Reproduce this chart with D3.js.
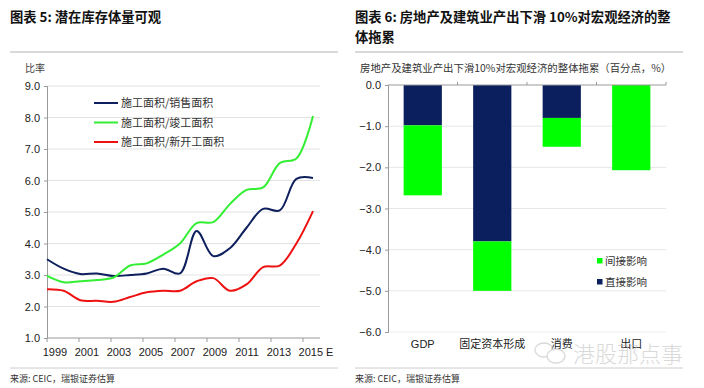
<!DOCTYPE html>
<html><head><meta charset="utf-8">
<script src="https://cdn.jsdelivr.net/npm/d3@7/dist/d3.min.js"></script>
<style>
body{margin:0;background:#fff;}
svg{display:block;font-family:"Noto Sans CJK SC","Liberation Sans",sans-serif;}
</style></head><body>
<svg id="c" width="704" height="388"></svg>
<script>
// ---- Chart 5 data ----
const years = [1999,2000,2001,2002,2003,2004,2005,2006,2007,2008,2009,2010,2011,2012,2013,2014,2015];
const yearLabels = ["1999","2001","2003","2005","2007","2009","2011","2013","2015 E"];
const salesRatio = [3.5,3.2,3.03,3.05,2.97,3.0,3.05,3.2,3.05,4.4,3.6,3.85,4.5,5.1,5.05,6.05,6.08];
const completedRatio = [2.97,2.77,2.8,2.84,2.92,3.3,3.37,3.65,4.0,4.65,4.68,5.25,5.7,5.78,6.55,6.7,8.05];
const newStartRatio = [2.55,2.5,2.2,2.18,2.15,2.3,2.45,2.5,2.5,2.8,2.9,2.5,2.7,3.25,3.3,4.0,5.03];
const leftTicks = [1,2,3,4,5,6,7,8,9];
const seriesNames = ["施工面积/销售面积","施工面积/竣工面积","施工面积/新开工面积"];

// ---- Chart 6 data ----
const categories = ["GDP","固定资本形成","消费","出口"];
const direct = [-0.98,-3.8,-0.8,0];
const indirect = [-1.7,-1.2,-0.7,-2.07];
const rightTicks = [0,-1,-2,-3,-4,-5,-6];

const svg = d3.select("#c");
const serif = "'Noto Sans CJK SC',sans-serif";

// ===== Left chart =====
svg.append("text").attr("x",10).attr("y",22).attr("font-size",13.3).attr("font-weight","bold").attr("fill","#111").text("图表 5: 潜在库存体量可观");
svg.append("line").attr("x1",10).attr("x2",338).attr("y1",52).attr("y2",52).attr("stroke","#ccc").attr("stroke-width",1.5);
svg.append("text").attr("x",25).attr("y",72).attr("font-size",10).attr("fill","#444").text("比率");

const x5 = d3.scaleLinear().domain([1999,2015]).range([47,313]);
const xBand = d3.scaleBand().domain(years).range([47,319]);
const y5 = d3.scaleLinear().domain([1,9]).range([338,86]);

const g5 = svg.append("g");
g5.selectAll("line.grid").data(leftTicks.slice(1)).join("line")
  .attr("x1",47).attr("x2",320).attr("y1",d=>y5(d)).attr("y2",d=>y5(d))
  .attr("stroke","#e3e3e3").attr("stroke-width",1);

const yAx5 = g5.append("g").attr("transform","translate(47,0)")
  .call(d3.axisLeft(y5).tickValues(leftTicks).tickFormat(d3.format(".1f")).tickSize(3));
yAx5.select(".domain").attr("stroke","#999");
yAx5.selectAll(".tick line").attr("stroke","#999");
yAx5.selectAll("text").attr("font-size",11).attr("fill","#222").attr("font-family","'Liberation Sans',Arial,sans-serif").attr("dx",-1);

// bottom axis
const xAxG = g5.append("g").attr("transform","translate(0,338)");
xAxG.append("line").attr("x1",47).attr("x2",320).attr("stroke","#999");
const labYears = years.filter((d,i)=>i%2===0);
xAxG.selectAll("line.t").data(labYears).join("line")
  .attr("x1",d=>xBand(d)).attr("x2",d=>xBand(d)).attr("y1",0).attr("y2",4).attr("stroke","#999");
xAxG.selectAll("text").data(labYears).join("text")
  .attr("x",(d,i)=>xBand(d)+xBand.bandwidth()/2 + (i===labYears.length-1?5:0))
  .attr("y",18).attr("text-anchor","middle").attr("font-size",11).attr("fill","#222")
  .attr("font-family","'Liberation Sans',Arial,sans-serif")
  .text((d,i)=>yearLabels[i]);

const line5 = d3.line().x((d,i)=>x5(years[i])).y(d=>y5(d)).curve(d3.curveCatmullRom.alpha(0.5));
const colors5 = ["#0d1f5c","#33ee33","#ee1111"];
[salesRatio,completedRatio,newStartRatio].forEach((s,k)=>{
  g5.append("path").datum(s).attr("d",line5).attr("fill","none").attr("stroke",colors5[k]).attr("stroke-width",2);
});
// legend
seriesNames.forEach((n,k)=>{
  const yy = 103 + k*19.5;
  g5.append("line").attr("x1",94).attr("x2",118).attr("y1",yy).attr("y2",yy).attr("stroke",colors5[k]).attr("stroke-width",2);
  g5.append("text").attr("x",121).attr("y",yy+4).attr("font-size",11).attr("fill","#333").text(n);
});
svg.append("line").attr("x1",10).attr("x2",338).attr("y1",368).attr("y2",368).attr("stroke","#ccc").attr("stroke-width",1);
svg.append("text").attr("x",10).attr("y",382).attr("font-size",9).attr("fill","#333").text("来源: CEIC，瑞银证券估算");

// ===== Right chart =====
const t6 = svg.append("text").attr("x",355).attr("font-size",13.3).attr("font-weight","bold").attr("fill","#111");
t6.append("tspan").attr("x",355).attr("y",22).text("图表 6: 房地产及建筑业产出下滑 10%对宏观经济的整");
t6.append("tspan").attr("x",355).attr("y",42).text("体拖累");
svg.append("line").attr("x1",355).attr("x2",683).attr("y1",52).attr("y2",52).attr("stroke","#ccc").attr("stroke-width",1.5);
svg.append("text").attr("x",360).attr("y",72).attr("font-size",10.4).attr("fill","#333").text("房地产及建筑业产出下滑10%对宏观经济的整体拖累（百分点，%）");

const x6 = d3.scaleBand().domain(categories).range([388,666]).paddingInner(0.45).paddingOuter(0.225);
const xb6 = d3.scaleBand().domain(categories).range([388,666]);
const y6 = d3.scaleLinear().domain([-6,0]).range([332,85]);
const g6 = svg.append("g");
g6.selectAll("line.grid").data(rightTicks.slice(1,-1)).join("line")
  .attr("x1",388).attr("x2",666).attr("y1",d=>y6(d)).attr("y2",d=>y6(d))
  .attr("stroke","#e6e6e6");
g6.append("line").attr("x1",388).attr("x2",666).attr("y1",y6(-6)).attr("y2",y6(-6)).attr("stroke","#eee");

const navy = "#0b1f5e", green = "#00ff00";
g6.selectAll("rect.d").data(categories).join("rect")
  .attr("x",d=>x6(d)).attr("width",x6.bandwidth())
  .attr("y",y6(0)).attr("height",(d,i)=>y6(direct[i])-y6(0)).attr("fill",navy);
g6.selectAll("rect.i").data(categories).join("rect")
  .attr("x",d=>x6(d)).attr("width",x6.bandwidth())
  .attr("y",(d,i)=>y6(direct[i])).attr("height",(d,i)=>y6(direct[i]+indirect[i])-y6(direct[i])).attr("fill",green);

const yAx6 = g6.append("g").attr("transform","translate(388,0)")
  .call(d3.axisLeft(y6).tickValues(rightTicks).tickFormat(d3.format(".1f")).tickSize(3));
yAx6.select(".domain").attr("stroke","#999");
yAx6.selectAll(".tick line").attr("stroke","#999");
yAx6.selectAll("text").attr("font-size",11).attr("fill","#222").attr("font-family","'Liberation Sans',Arial,sans-serif").attr("dx",-1);
// zero line with category ticks
g6.append("line").attr("x1",388).attr("x2",666).attr("y1",y6(0)).attr("y2",y6(0)).attr("stroke","#999");
g6.selectAll("line.ct").data(categories.slice(1).concat(["end"])).join("line")
  .attr("x1",(d,i)=>i<3?xb6(d):666).attr("x2",(d,i)=>i<3?xb6(d):666)
  .attr("y1",y6(0)).attr("y2",y6(0)-3).attr("stroke","#999");
g6.selectAll("text.cat").data(categories).join("text")
  .attr("x",d=>x6(d)+x6.bandwidth()/2).attr("y",348).attr("text-anchor","middle")
  .attr("font-size",11).attr("fill","#222")
  .attr("font-family",(d,i)=>i===0?"'Liberation Sans',Arial,sans-serif":serif)
  .text(d=>d);
// legend
[["间接影响",green],["直接影响",navy]].forEach((l,k)=>{
  const yy = 261 + k*21;
  g6.append("rect").attr("x",597).attr("y",yy-3).attr("width",5.5).attr("height",5.5).attr("fill",l[1]);
  g6.append("text").attr("x",605).attr("y",yy+4).attr("font-size",10.5).attr("fill","#333").text(l[0]);
});
// watermark
const wm = svg.append("g").attr("opacity",0.55);
wm.append("ellipse").attr("cx",544).attr("cy",350).attr("rx",9).attr("ry",7).attr("fill","none").attr("stroke","#bbb").attr("stroke-width",1.3);
wm.append("ellipse").attr("cx",556).attr("cy",356).attr("rx",9).attr("ry",7).attr("fill","#fff").attr("stroke","#bbb").attr("stroke-width",1.3);
wm.append("text").attr("x",573).attr("y",362).attr("font-size",22).attr("fill","#bbb").attr("font-weight",300).text("港股那点事");

svg.append("line").attr("x1",355).attr("x2",683).attr("y1",368).attr("y2",368).attr("stroke","#ccc").attr("stroke-width",1);
svg.append("text").attr("x",355).attr("y",382).attr("font-size",9).attr("fill","#333").text("来源: CEIC，瑞银证券估算");
</script>
</body></html>
